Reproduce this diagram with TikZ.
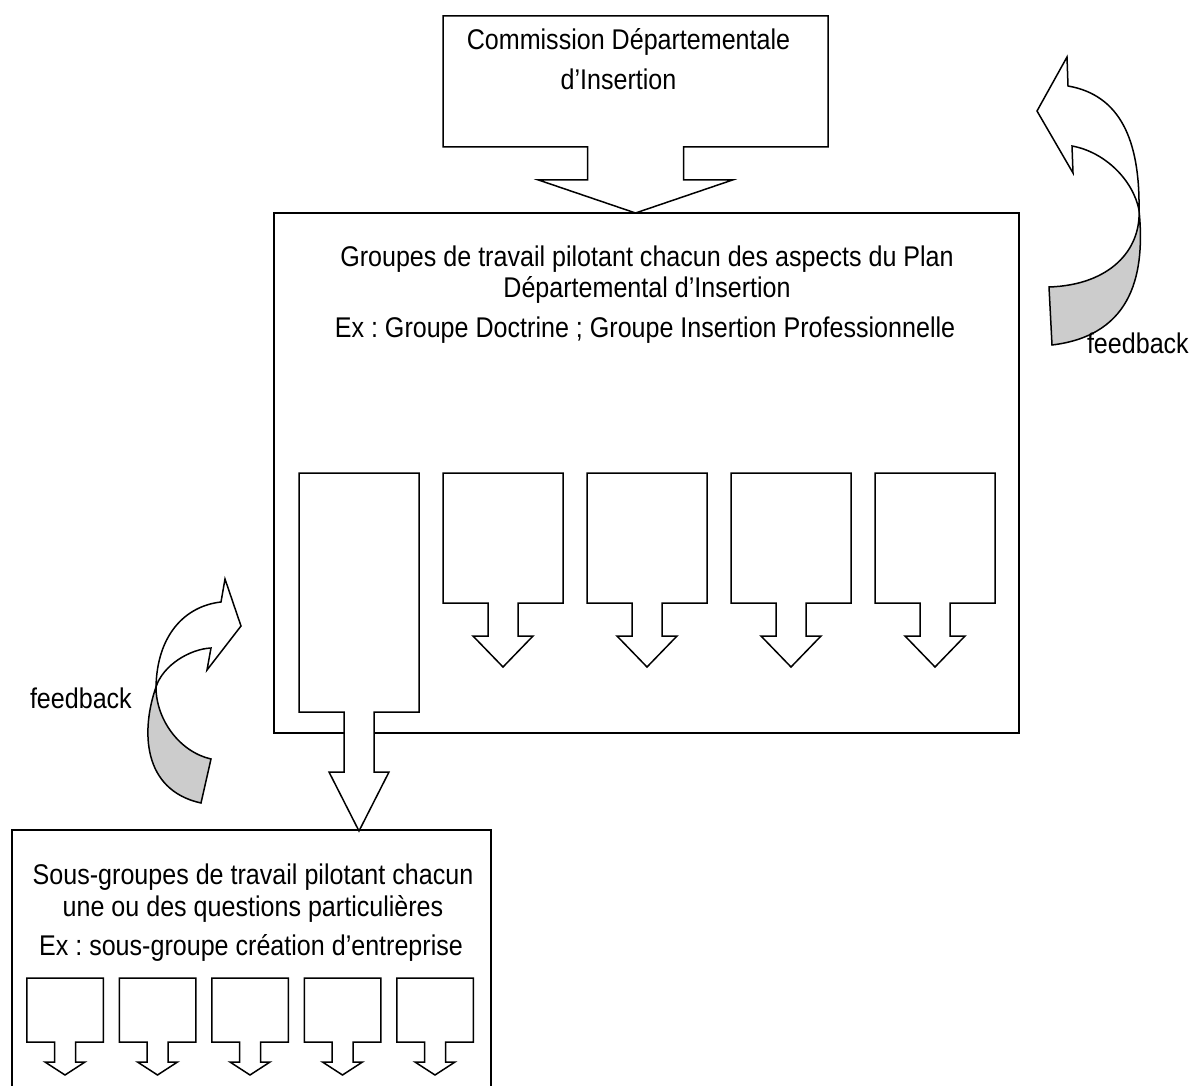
\documentclass[tikz,border=0pt]{standalone}
\usepackage{fontspec}
\setmainfont{Liberation Sans}[FakeStretch=0.88]
\frenchspacing
\tikzset{
  ln/.style={line width=1.5pt, line join=miter},
  txt/.style={inner sep=0pt, outer sep=0pt, anchor=base, font=\fontsize{28.5}{32}\selectfont},
  cbox/.style={inner sep=0pt, outer sep=0pt, draw=none},
  shade/.style={ln, fill=black!20},
}
% down-arrow callout drawn round a named box node:
% #1 name, #2 stem half width, #3 stem length, #4 head half width, #5 tip distance
\newcommand\dcall[5]{%
  \draw[ln, fill=white] (#1.north west) -- (#1.north east) -- (#1.south east)
    -- ([xshift=#2pt]#1.south) -- ([xshift=#2pt,yshift=-#3pt]#1.south)
    -- ([xshift=#4pt,yshift=-#3pt]#1.south) -- ([yshift=-#5pt]#1.south)
    -- ([xshift=-#4pt,yshift=-#3pt]#1.south) -- ([xshift=-#2pt,yshift=-#3pt]#1.south)
    -- ([xshift=-#2pt]#1.south) -- (#1.south west) -- cycle;}
\begin{document}
\begin{tikzpicture}[x=1pt, y=-1pt]
\useasboundingbox (0,0) rectangle (1191,1086);

% main box
\node[ln, draw, inner sep=0pt, outer sep=0pt, minimum width=745pt, minimum height=520pt] (main) at (646.5,473) {};
\node[txt] (m1) at (647,266) {Groupes de travail pilotant chacun des aspects du Plan};
\node[txt] (m2) at (647,297) {Départemental d’Insertion};
\node[txt] (m3) at (645,337) {Ex : Groupe Doctrine ; Groupe Insertion Professionnelle};

% top callout
\node[cbox, minimum width=385pt, minimum height=131pt] (cdi) at (635.5,81.5) {};
\dcall{cdi}{48}{33}{97}{66}
\node[txt] (c1) at (628.5,50) {Commission Départementale};
\node[txt] (c2) at (618.5,90) {d’Insertion};

% callouts in main box
\node[cbox, minimum width=120pt, minimum height=239pt] (g0) at (359,592.5) {};
\node[cbox, minimum width=120pt, minimum height=130pt] (g1) at (503,538) {};
\node[cbox, minimum width=120pt, minimum height=130pt] (g2) at (647,538) {};
\node[cbox, minimum width=120pt, minimum height=130pt] (g3) at (791,538) {};
\node[cbox, minimum width=120pt, minimum height=130pt] (g4) at (935,538) {};
\dcall{g0}{15}{60}{30}{119}
\dcall{g1}{15}{33}{30}{64}
\dcall{g2}{15}{33}{30}{64}
\dcall{g3}{15}{33}{30}{64}
\dcall{g4}{15}{33}{30}{64}

% sub-groups box (runs off the bottom edge)
\node[cbox, minimum width=479pt, minimum height=256pt] (sub) at (251.5,958) {};
\draw[ln] (sub.south west) -- (sub.north west) -- (sub.north east) -- (sub.south east);
\node[txt] (s1) at (253,884) {Sous-groupes de travail pilotant chacun};
\node[txt] (s2) at (253,916) {une ou des questions particulières};
\node[txt] (s3) at (251,955) {Ex : sous-groupe création d’entreprise};

\foreach \i/\x in {1/65,2/157.5,3/250,4/342.5,5/435}{
  \node[cbox, minimum width=76.5pt, minimum height=64pt] (k\i) at (\x,1010) {};
  \dcall{k\i}{10.5}{20}{20}{33}
}

% right curved arrow (feedback)
\draw[ln, fill=white] (1068,86) -- (1067,57) -- (1037,111) -- (1073,173) -- (1072,146)
  .. controls (1105,152) and (1133,180) .. (1139,210)
  .. controls (1140,140) and (1120,95) .. (1068,86) -- cycle;
\draw[shade] (1139,210) .. controls (1141,250) and (1110,285) .. (1049,287)
  -- (1052,345) .. controls (1135,335) and (1145,270) .. (1139,210) -- cycle;
\node[txt, anchor=base west] (fb1) at (1087,353) {feedback};

% left curved arrow (feedback)
\draw[ln, fill=white] (221,602) -- (225,579) -- (241,626) -- (207,670) -- (211,648)
  .. controls (190,649) and (163,665) .. (156,687)
  .. controls (157,635) and (185,606) .. (221,602) -- cycle;
\draw[shade] (156,687) .. controls (141,730) and (142,790) .. (201,803)
  -- (211,759) .. controls (180,752) and (156,720) .. (156,687) -- cycle;
\node[txt, anchor=base west] (fb2) at (30,708) {feedback};
\end{tikzpicture}
\end{document}
